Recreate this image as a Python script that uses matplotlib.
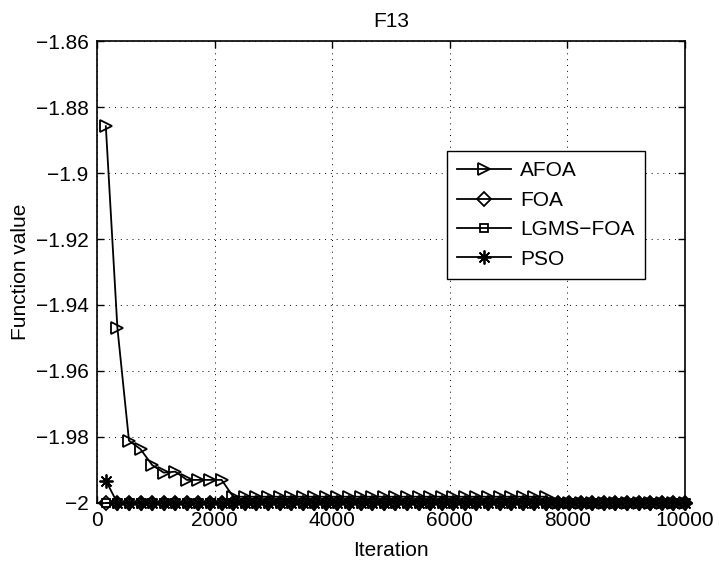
import numpy as np
import matplotlib
matplotlib.use("Agg")
import matplotlib.pyplot as plt
from matplotlib.ticker import FuncFormatter

plt.rcParams['font.family'] = ['Liberation Sans', 'DejaVu Sans']

# iterations where the curves are sampled (51 marker points)
iterations = np.linspace(150, 10000, 51)

afoa = ([-1.8858, -1.9469, -1.9811, -1.9837, -1.9885, -1.9908, -1.9905,
         -1.9930, -1.9930, -1.9930, -1.9930]
        + [-1.9981] * 28
        + [-2.0] * 12)
foa = [-2.0] * 51
lgms_foa = [-2.0] * 51
pso = [-1.9932] + [-2.0] * 50

x_ticks = [0, 2000, 4000, 6000, 8000, 10000]
y_ticks = [-2.0, -1.98, -1.96, -1.94, -1.92, -1.9, -1.88, -1.86]

fig = plt.figure(figsize=(7.19, 5.61), dpi=100)
ax = fig.add_axes([0.1349, 0.1034, 0.8178, 0.8235])

style = dict(color='k', lw=1.3, mew=1.3, mfc='none', clip_on=False)
ax.plot(iterations, afoa, marker='>', ms=9, label='AFOA', **style)
ax.plot(iterations, foa, marker='D', ms=7, label='FOA', **style)
ax.plot(iterations, lgms_foa, marker='s', ms=6, label='LGMS\u2212FOA', **style)
ax.plot(iterations, pso, marker=(8, 2, 0), ms=10, label='PSO', **style)

ax.set_xlim(0, 10000)
ax.set_ylim(-2.0, -1.86)
ax.set_xticks(x_ticks)
ax.set_yticks(y_ticks)
ax.yaxis.set_major_formatter(FuncFormatter(lambda v, p: ('%g' % round(v, 2)).replace('-', '\u2212')))
ax.tick_params(direction='in', top=True, right=True, length=5, width=1, labelsize=15, pad=6)
ax.grid(True, color='k', linestyle=(0, (1, 5)), linewidth=0.7)
for s in ax.spines.values():
    s.set_linewidth(1.2)

ax.set_title('F13', fontsize=15, pad=10)
ax.set_xlabel('Iteration', fontsize=15, labelpad=8)
ax.set_ylabel('Function value', fontsize=15, labelpad=4)

leg = ax.legend(loc='upper left', bbox_to_anchor=(0.595, 0.762), borderaxespad=0,
                fontsize=15, fancybox=False, framealpha=1, edgecolor='k',
                handlelength=2.6, handletextpad=0.4, labelspacing=0.5,
                borderpad=0.5)
leg.get_frame().set_linewidth(1.0)

fig.savefig('out.png', dpi=100)
